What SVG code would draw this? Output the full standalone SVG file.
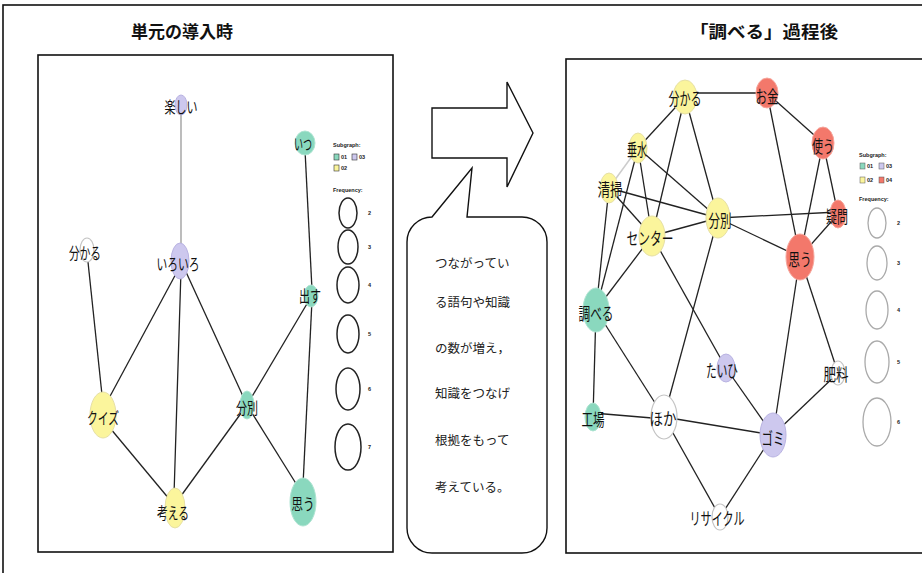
<svg xmlns="http://www.w3.org/2000/svg" width="922" height="573" viewBox="0 0 922 573">
<style>
.frame{fill:none;stroke:#111;stroke-width:1.6}
.title{font-family:"Noto Sans CJK JP","Liberation Sans",sans-serif;font-weight:bold;font-size:17px;fill:#111;text-anchor:middle}
.lbl{font-family:"Noto Sans CJK JP","Liberation Sans",sans-serif;font-size:16px;fill:#111;text-anchor:middle;dominant-baseline:central}
.rl{font-size:17px}
.e{stroke:#222;stroke-width:1.3;fill:none}
.eg{stroke:#999;stroke-width:1.3;fill:none}
.eg2{stroke:#ccc;stroke-width:1.5;fill:none}
.pu{fill:#cdc8ee;stroke:#b9b3e2;stroke-width:1}
.te{fill:#8ad8be;stroke:#aee4d2;stroke-width:1}
.ye{fill:#fbf59c;stroke:#e6e0a6;stroke-width:1}
.re{fill:#f3786b;stroke:#f6a69c;stroke-width:1}
.wh{fill:#fff;stroke:#c4c4c4;stroke-width:1.2}
.lg{font-family:"Liberation Sans",Arial,sans-serif;font-size:5.5px;font-weight:bold;fill:#222}
.lc{fill:none;stroke:#222;stroke-width:1.5}
.lc2{fill:none;stroke:#aaa;stroke-width:1.3}
.ct{font-family:"Noto Sans CJK JP","Liberation Serif",serif;font-size:12.5px;fill:#222}
</style>
<rect x="3" y="5" width="940" height="600" class="frame"/>
<text class="title" x="182" y="38">単元の導入時</text>
<text class="title" x="764" y="38" textLength="148" lengthAdjust="spacingAndGlyphs">「調べる」過程後</text>

<rect id="left-panel" x="38" y="55" width="355" height="497" class="frame"/>
<rect id="right-panel" x="566" y="59" width="380" height="494" class="frame"/>

<g id="arrow"><polygon points="432,108 507,108 507,82 533,133 507,187 507,158 432,158" fill="#fff" stroke="#111" stroke-width="1.4"/></g>
<g id="callout">
<path d="M432,217 L472,168 L467,217 L522,217 A25,25 0 0 1 547,242 L547,528 A25,25 0 0 1 522,553 L432,553 A25,25 0 0 1 407,528 L407,242 A25,25 0 0 1 432,217 Z" fill="#fff" stroke="#111" stroke-width="1.4"/>
<text class="ct" x="435" y="268">つながってい</text>
<text class="ct" x="435" y="307">る語句や知識</text>
<text class="ct" x="435" y="353">の数が増え，</text>
<text class="ct" x="435" y="398">知識をつなげ</text>
<text class="ct" x="435" y="445">根拠をもって</text>
<text class="ct" x="435" y="492">考えている。</text>
</g>

<g id="left-connectors">
<line class="eg" x1="181" y1="113" x2="181" y2="245"/>
<line class="e" x1="178" y1="270" x2="108" y2="400"/>
<line class="e" x1="181" y1="270" x2="174" y2="495"/>
<line class="e" x1="186" y1="272" x2="247" y2="405"/>
<line class="e" x1="88" y1="262" x2="102" y2="395"/>
<line class="e" x1="110" y1="428" x2="170" y2="500"/>
<line class="e" x1="178" y1="500" x2="247" y2="405"/>
<line class="e" x1="247" y1="405" x2="311" y2="297"/>
<line class="e" x1="247" y1="405" x2="300" y2="490"/>
<line class="e" x1="312" y1="300" x2="303" y2="485"/>
<line class="e" x1="305" y1="150" x2="312" y2="290"/>
</g>

<g id="l-tanoshii"><ellipse class="pu" cx="181" cy="105" rx="6" ry="10"/><text class="lbl" x="181" y="106" textLength="33" lengthAdjust="spacingAndGlyphs">楽しい</text></g>
<g id="l-iroiro"><ellipse class="pu" cx="180" cy="261" rx="9" ry="18"/><text class="lbl" x="178" y="263" textLength="43" lengthAdjust="spacingAndGlyphs">いろいろ</text></g>
<g id="l-wakaru"><ellipse class="wh" cx="87" cy="250" rx="7" ry="12"/><text class="lbl" x="85" y="252" textLength="32" lengthAdjust="spacingAndGlyphs">分かる</text></g>
<g id="l-quiz"><ellipse class="ye" cx="103" cy="415" rx="13" ry="23"/><text class="lbl" x="103" y="417" textLength="32" lengthAdjust="spacingAndGlyphs">クイズ</text></g>
<g id="l-kangaeru"><ellipse class="ye" cx="175" cy="508" rx="10" ry="20"/><text class="lbl" x="173" y="512" textLength="32" lengthAdjust="spacingAndGlyphs">考える</text></g>
<g id="l-bunbetsu"><ellipse class="te" cx="247" cy="405" rx="7" ry="14"/><text class="lbl" x="247" y="407" textLength="22" lengthAdjust="spacingAndGlyphs">分別</text></g>
<g id="l-omou"><ellipse class="te" cx="303" cy="502" rx="13" ry="24"/><text class="lbl" x="303" y="503" textLength="23" lengthAdjust="spacingAndGlyphs">思う</text></g>
<g id="l-dasu"><ellipse class="te" cx="311" cy="296" rx="7" ry="11"/><text class="lbl" x="310" y="295" textLength="22" lengthAdjust="spacingAndGlyphs">出す</text></g>
<g id="l-itsu"><ellipse class="te" cx="305" cy="143" rx="10" ry="12"/><text class="lbl" x="303" y="143" textLength="18" lengthAdjust="spacingAndGlyphs">いつ</text></g>

<g id="left-legend">
<text class="lg" x="333" y="147">Subgraph:</text>
<rect x="334" y="154" width="5" height="6" fill="#8ad8be" stroke="#333" stroke-width="0.6"/><text class="lg" x="341" y="159">01</text>
<rect x="352" y="154" width="5" height="6" fill="#cdc8ee" stroke="#333" stroke-width="0.6"/><text class="lg" x="359" y="159">03</text>
<rect x="334" y="165" width="5" height="6" fill="#fbf59c" stroke="#333" stroke-width="0.6"/><text class="lg" x="341" y="170">02</text>
<text class="lg" x="333" y="192">Frequency:</text>
<ellipse class="lc" cx="348" cy="213" rx="9" ry="15"/><text class="lg" x="368" y="215">2</text>
<ellipse class="lc" cx="348" cy="247" rx="10" ry="17"/><text class="lg" x="368" y="249">3</text>
<ellipse class="lc" cx="348" cy="285" rx="11" ry="18"/><text class="lg" x="368" y="287">4</text>
<ellipse class="lc" cx="348" cy="334" rx="11" ry="19"/><text class="lg" x="368" y="336">5</text>
<ellipse class="lc" cx="348" cy="389" rx="12" ry="21"/><text class="lg" x="368" y="391">6</text>
<ellipse class="lc" cx="348" cy="447" rx="13" ry="23"/><text class="lg" x="368" y="449">7</text>
</g>

<g id="right-connectors">
<line class="e" x1="685" y1="93" x2="767" y2="93"/>
<line class="e" x1="685" y1="97" x2="638" y2="148"/>
<line class="e" x1="685" y1="97" x2="652" y2="236"/>
<line class="e" x1="685" y1="97" x2="718" y2="218"/>
<line class="eg2" x1="638" y1="148" x2="609" y2="188"/>
<line class="e" x1="638" y1="148" x2="652" y2="236"/>
<line class="e" x1="638" y1="148" x2="718" y2="218"/>
<line class="e" x1="638" y1="148" x2="596" y2="310"/>
<line class="e" x1="609" y1="188" x2="718" y2="218"/>
<line class="e" x1="609" y1="188" x2="652" y2="236"/>
<line class="e" x1="609" y1="188" x2="596" y2="310"/>
<line class="e" x1="652" y1="236" x2="718" y2="218"/>
<line class="e" x1="652" y1="236" x2="596" y2="310"/>
<line class="e" x1="652" y1="236" x2="726" y2="368"/>
<line class="e" x1="718" y1="218" x2="664" y2="417"/>
<line class="e" x1="718" y1="218" x2="800" y2="257"/>
<line class="e" x1="718" y1="218" x2="838" y2="212"/>
<line class="e" x1="767" y1="93" x2="823" y2="143"/>
<line class="e" x1="767" y1="93" x2="800" y2="257"/>
<line class="e" x1="823" y1="143" x2="800" y2="257"/>
<line class="e" x1="823" y1="143" x2="838" y2="214"/>
<line class="e" x1="838" y1="214" x2="800" y2="257"/>
<line class="e" x1="800" y1="257" x2="773" y2="435"/>
<line class="e" x1="800" y1="257" x2="838" y2="373"/>
<line class="e" x1="596" y1="310" x2="593" y2="417"/>
<line class="e" x1="596" y1="310" x2="664" y2="417"/>
<line class="e" x1="593" y1="413" x2="664" y2="419"/>
<line class="e" x1="664" y1="417" x2="773" y2="435"/>
<line class="e" x1="664" y1="417" x2="720" y2="517"/>
<line class="e" x1="726" y1="368" x2="773" y2="435"/>
<line class="e" x1="773" y1="435" x2="838" y2="373"/>
<line class="e" x1="773" y1="435" x2="720" y2="517"/>
</g>

<g id="r-wakaru"><ellipse class="ye" cx="685" cy="97" rx="12" ry="17"/><text class="lbl rl" x="685" y="97" textLength="33" lengthAdjust="spacingAndGlyphs">分かる</text></g>
<g id="r-tarumi"><ellipse class="ye" cx="638" cy="148" rx="9" ry="15"/><text class="lbl rl" x="637" y="148" textLength="20" lengthAdjust="spacingAndGlyphs">垂水</text></g>
<g id="r-seisou"><ellipse class="ye" cx="609" cy="188" rx="9" ry="15"/><text class="lbl rl" x="610" y="188" textLength="25" lengthAdjust="spacingAndGlyphs">清掃</text></g>
<g id="r-center"><ellipse class="ye" cx="652" cy="236" rx="13" ry="20"/><text class="lbl rl" x="650" y="237" textLength="47" lengthAdjust="spacingAndGlyphs">センター</text></g>
<g id="r-bunbetsu"><ellipse class="ye" cx="718" cy="218" rx="12" ry="20"/><text class="lbl rl" x="720" y="219" textLength="23" lengthAdjust="spacingAndGlyphs">分別</text></g>
<g id="r-okane"><ellipse class="re" cx="767" cy="93" rx="11" ry="15"/><text class="lbl rl" x="767" y="95" textLength="23" lengthAdjust="spacingAndGlyphs">お金</text></g>
<g id="r-tsukau"><ellipse class="re" cx="823" cy="143" rx="11" ry="16"/><text class="lbl rl" x="823" y="145" textLength="22" lengthAdjust="spacingAndGlyphs">使う</text></g>
<g id="r-gimon"><ellipse class="re" cx="838" cy="214" rx="8" ry="14"/><text class="lbl rl" x="837" y="215" textLength="22" lengthAdjust="spacingAndGlyphs">疑問</text></g>
<g id="r-omou"><ellipse class="re" cx="800" cy="257" rx="14" ry="23"/><text class="lbl rl" x="800" y="258" textLength="23" lengthAdjust="spacingAndGlyphs">思う</text></g>
<g id="r-shiraberu"><ellipse class="te" cx="596" cy="310" rx="13" ry="22"/><text class="lbl rl" x="596" y="312" textLength="35" lengthAdjust="spacingAndGlyphs">調べる</text></g>
<g id="r-koujou"><ellipse class="te" cx="593" cy="417" rx="8" ry="14"/><text class="lbl rl" x="593" y="418" textLength="23" lengthAdjust="spacingAndGlyphs">工場</text></g>
<g id="r-hoka"><ellipse class="wh" cx="664" cy="417" rx="13" ry="22"/><text class="lbl rl" x="663" y="417" textLength="27" lengthAdjust="spacingAndGlyphs">ほか</text></g>
<g id="r-taihi"><ellipse class="pu" cx="726" cy="368" rx="9" ry="14"/><text class="lbl rl" x="722" y="369" textLength="32" lengthAdjust="spacingAndGlyphs">たいひ</text></g>
<g id="r-gomi"><ellipse class="pu" cx="773" cy="435" rx="13" ry="22"/><text class="lbl rl" x="773" y="437" textLength="23" lengthAdjust="spacingAndGlyphs">ゴミ</text></g>
<g id="r-hiryou"><ellipse class="wh" cx="838" cy="373" rx="7" ry="12"/><text class="lbl rl" x="836" y="373" textLength="25" lengthAdjust="spacingAndGlyphs">肥料</text></g>
<g id="r-recycle"><ellipse class="wh" cx="720" cy="517" rx="8" ry="13"/><text class="lbl rl" x="717" y="517" textLength="55" lengthAdjust="spacingAndGlyphs">リサイクル</text></g>

<g id="right-legend">
<text class="lg" x="859" y="157">Subgraph:</text>
<rect x="860" y="163" width="5" height="6" fill="#8ad8be" stroke="#555" stroke-width="0.5"/><text class="lg" x="867" y="168" font-weight="normal">01</text>
<rect x="879" y="163" width="5" height="6" fill="#cdc8ee" stroke="#555" stroke-width="0.5"/><text class="lg" x="886" y="168" font-weight="normal">03</text>
<rect x="860" y="177" width="5" height="6" fill="#fbf59c" stroke="#555" stroke-width="0.5"/><text class="lg" x="867" y="182" font-weight="normal">02</text>
<rect x="879" y="177" width="5" height="6" fill="#f3786b" stroke="#555" stroke-width="0.5"/><text class="lg" x="886" y="182" font-weight="normal">04</text>
<text class="lg" x="859" y="201">Frequency:</text>
<ellipse class="lc2" cx="877" cy="223" rx="9" ry="15"/><text class="lg" x="897" y="225" font-weight="normal">2</text>
<ellipse class="lc2" cx="877" cy="263" rx="10" ry="17"/><text class="lg" x="897" y="265" font-weight="normal">3</text>
<ellipse class="lc2" cx="877" cy="310" rx="11" ry="19"/><text class="lg" x="897" y="312" font-weight="normal">4</text>
<ellipse class="lc2" cx="877" cy="362" rx="12" ry="21"/><text class="lg" x="897" y="364" font-weight="normal">5</text>
<ellipse class="lc2" cx="877" cy="422" rx="14" ry="24"/><text class="lg" x="897" y="424" font-weight="normal">6</text>
</g>
</svg>
